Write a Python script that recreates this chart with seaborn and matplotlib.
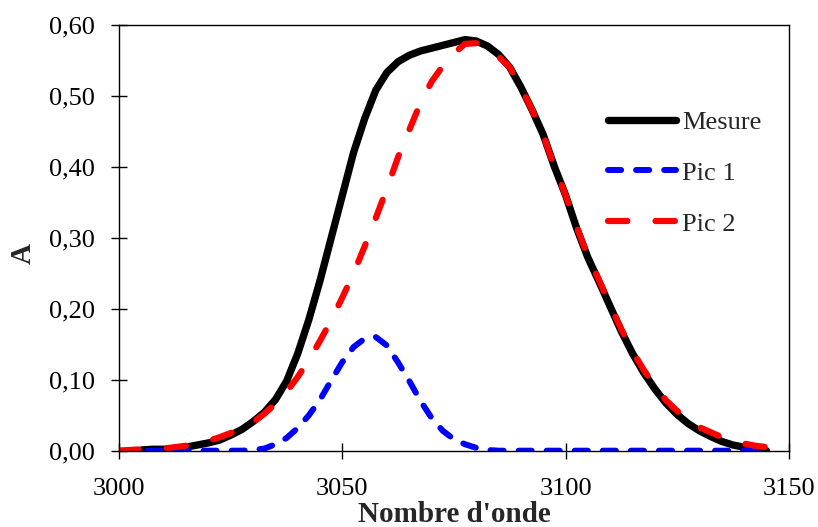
import matplotlib
matplotlib.use('Agg')
import matplotlib.pyplot as plt
import seaborn as sns
import numpy as np
from matplotlib.ticker import FuncFormatter, MultipleLocator

# wavenumber sampling, 3000 -> 3145 every 2.5
x_pics = list(np.arange(3000, 3145.1, 2.5))
x_mesure = x_pics[2:]

mesure = [0.001, 0.002, 0.002, 0.003, 0.005, 0.008, 0.011, 0.015, 0.022, 0.030,
          0.041, 0.054, 0.072, 0.098, 0.137, 0.185, 0.240, 0.300, 0.360, 0.420,
          0.468, 0.508, 0.533, 0.548, 0.557, 0.563, 0.567, 0.571, 0.575, 0.579,
          0.577, 0.570, 0.558, 0.540, 0.512, 0.480, 0.445, 0.400, 0.360, 0.313,
          0.272, 0.238, 0.203, 0.168, 0.137, 0.110, 0.087, 0.067, 0.051, 0.038,
          0.028, 0.020, 0.013, 0.008, 0.005, 0.002, 0.000]

pic1 = [0.0, 0.0, 0.0, 0.0, 0.0, 0.0, 0.0, 0.0, 0.0, 0.0, 0.0, 0.0,
        0.001, 0.003, 0.009, 0.018, 0.032, 0.050, 0.072, 0.099, 0.125, 0.146,
        0.158, 0.160, 0.148, 0.124, 0.098, 0.070, 0.046, 0.028, 0.016, 0.009,
        0.004, 0.001,
        0.0, 0.0, 0.0, 0.0, 0.0, 0.0, 0.0, 0.0, 0.0, 0.0, 0.0, 0.0, 0.0,
        0.0, 0.0, 0.0, 0.0, 0.0, 0.0, 0.0, 0.0, 0.0, 0.0, 0.0, 0.0]

pic2 = [0.000, 0.001, 0.002, 0.002, 0.003, 0.005, 0.007, 0.010, 0.014, 0.019,
        0.025, 0.031, 0.040, 0.052, 0.066, 0.083, 0.104, 0.128, 0.155, 0.184,
        0.216, 0.250, 0.288, 0.328, 0.370, 0.414, 0.452, 0.490, 0.520, 0.542,
        0.560, 0.573, 0.574, 0.567, 0.555, 0.540, 0.512, 0.480, 0.445, 0.400,
        0.360, 0.315, 0.274, 0.240, 0.205, 0.171, 0.140, 0.114, 0.091, 0.071,
        0.056, 0.043, 0.033, 0.026, 0.019, 0.014, 0.010, 0.007, 0.005]

sns.set_style('ticks')
plt.rcParams['font.family'] = ['Liberation Serif', 'DejaVu Serif']

fig = plt.figure(figsize=(8.18, 5.27), dpi=100)
ax = fig.add_axes([0.1458, 0.1448, 0.8184, 0.8083])

sns.lineplot(x=x_mesure, y=mesure, ax=ax, color='black', lw=5.3,
             label='Mesure', errorbar=None, sort=False)
sns.lineplot(x=x_pics, y=pic1, ax=ax, color='#0000ff', lw=4.3,
             label='Pic 1', errorbar=None, sort=False)
sns.lineplot(x=x_pics, y=pic2, ax=ax, color='#ff0000', lw=4.5,
             label='Pic 2', errorbar=None, sort=False)

ax.lines[0].set_solid_capstyle('round')
ax.lines[0].set_solid_joinstyle('round')
ax.lines[1].set_dashes((2.2, 2.5))
ax.lines[1].set_dash_capstyle('round')
ax.lines[2].set_dashes((3.1, 4.5))
ax.lines[2].set_dash_capstyle('round')

ax.set_xlim(3000, 3150)
ax.set_ylim(0, 0.6)
ax.xaxis.set_major_locator(MultipleLocator(50))
ax.yaxis.set_major_locator(MultipleLocator(0.1))
ax.yaxis.set_major_formatter(FuncFormatter(lambda v, p: f"{v:.2f}".replace('.', ',')))

ax.tick_params(direction='inout', length=11.5, width=1.0, labelsize=19,
               color='black', labelcolor='black', pad=12)
ax.tick_params(axis='x', pad=14)
for s in ax.spines.values():
    s.set_visible(True)
    s.set_linewidth(1.0)
    s.set_color('black')

ax.set_xlabel("Nombre d'onde", fontsize=21, fontweight='bold')
ax.set_ylabel("A", fontsize=21, fontweight='bold')
ax.xaxis.set_label_coords(0.5, -0.118)
ax.yaxis.set_label_coords(-0.123, 0.462)

leg = ax.legend(loc='center left', bbox_to_anchor=(0.7308, 0.652), frameon=False,
                fontsize=19, handlelength=2.54, handletextpad=0.25,
                labelspacing=1.04, borderpad=0, borderaxespad=0)
for h in leg.get_lines():
    h.set_dash_capstyle('round')
    h.set_solid_capstyle('round')

fig.savefig('out.png', dpi=100)
